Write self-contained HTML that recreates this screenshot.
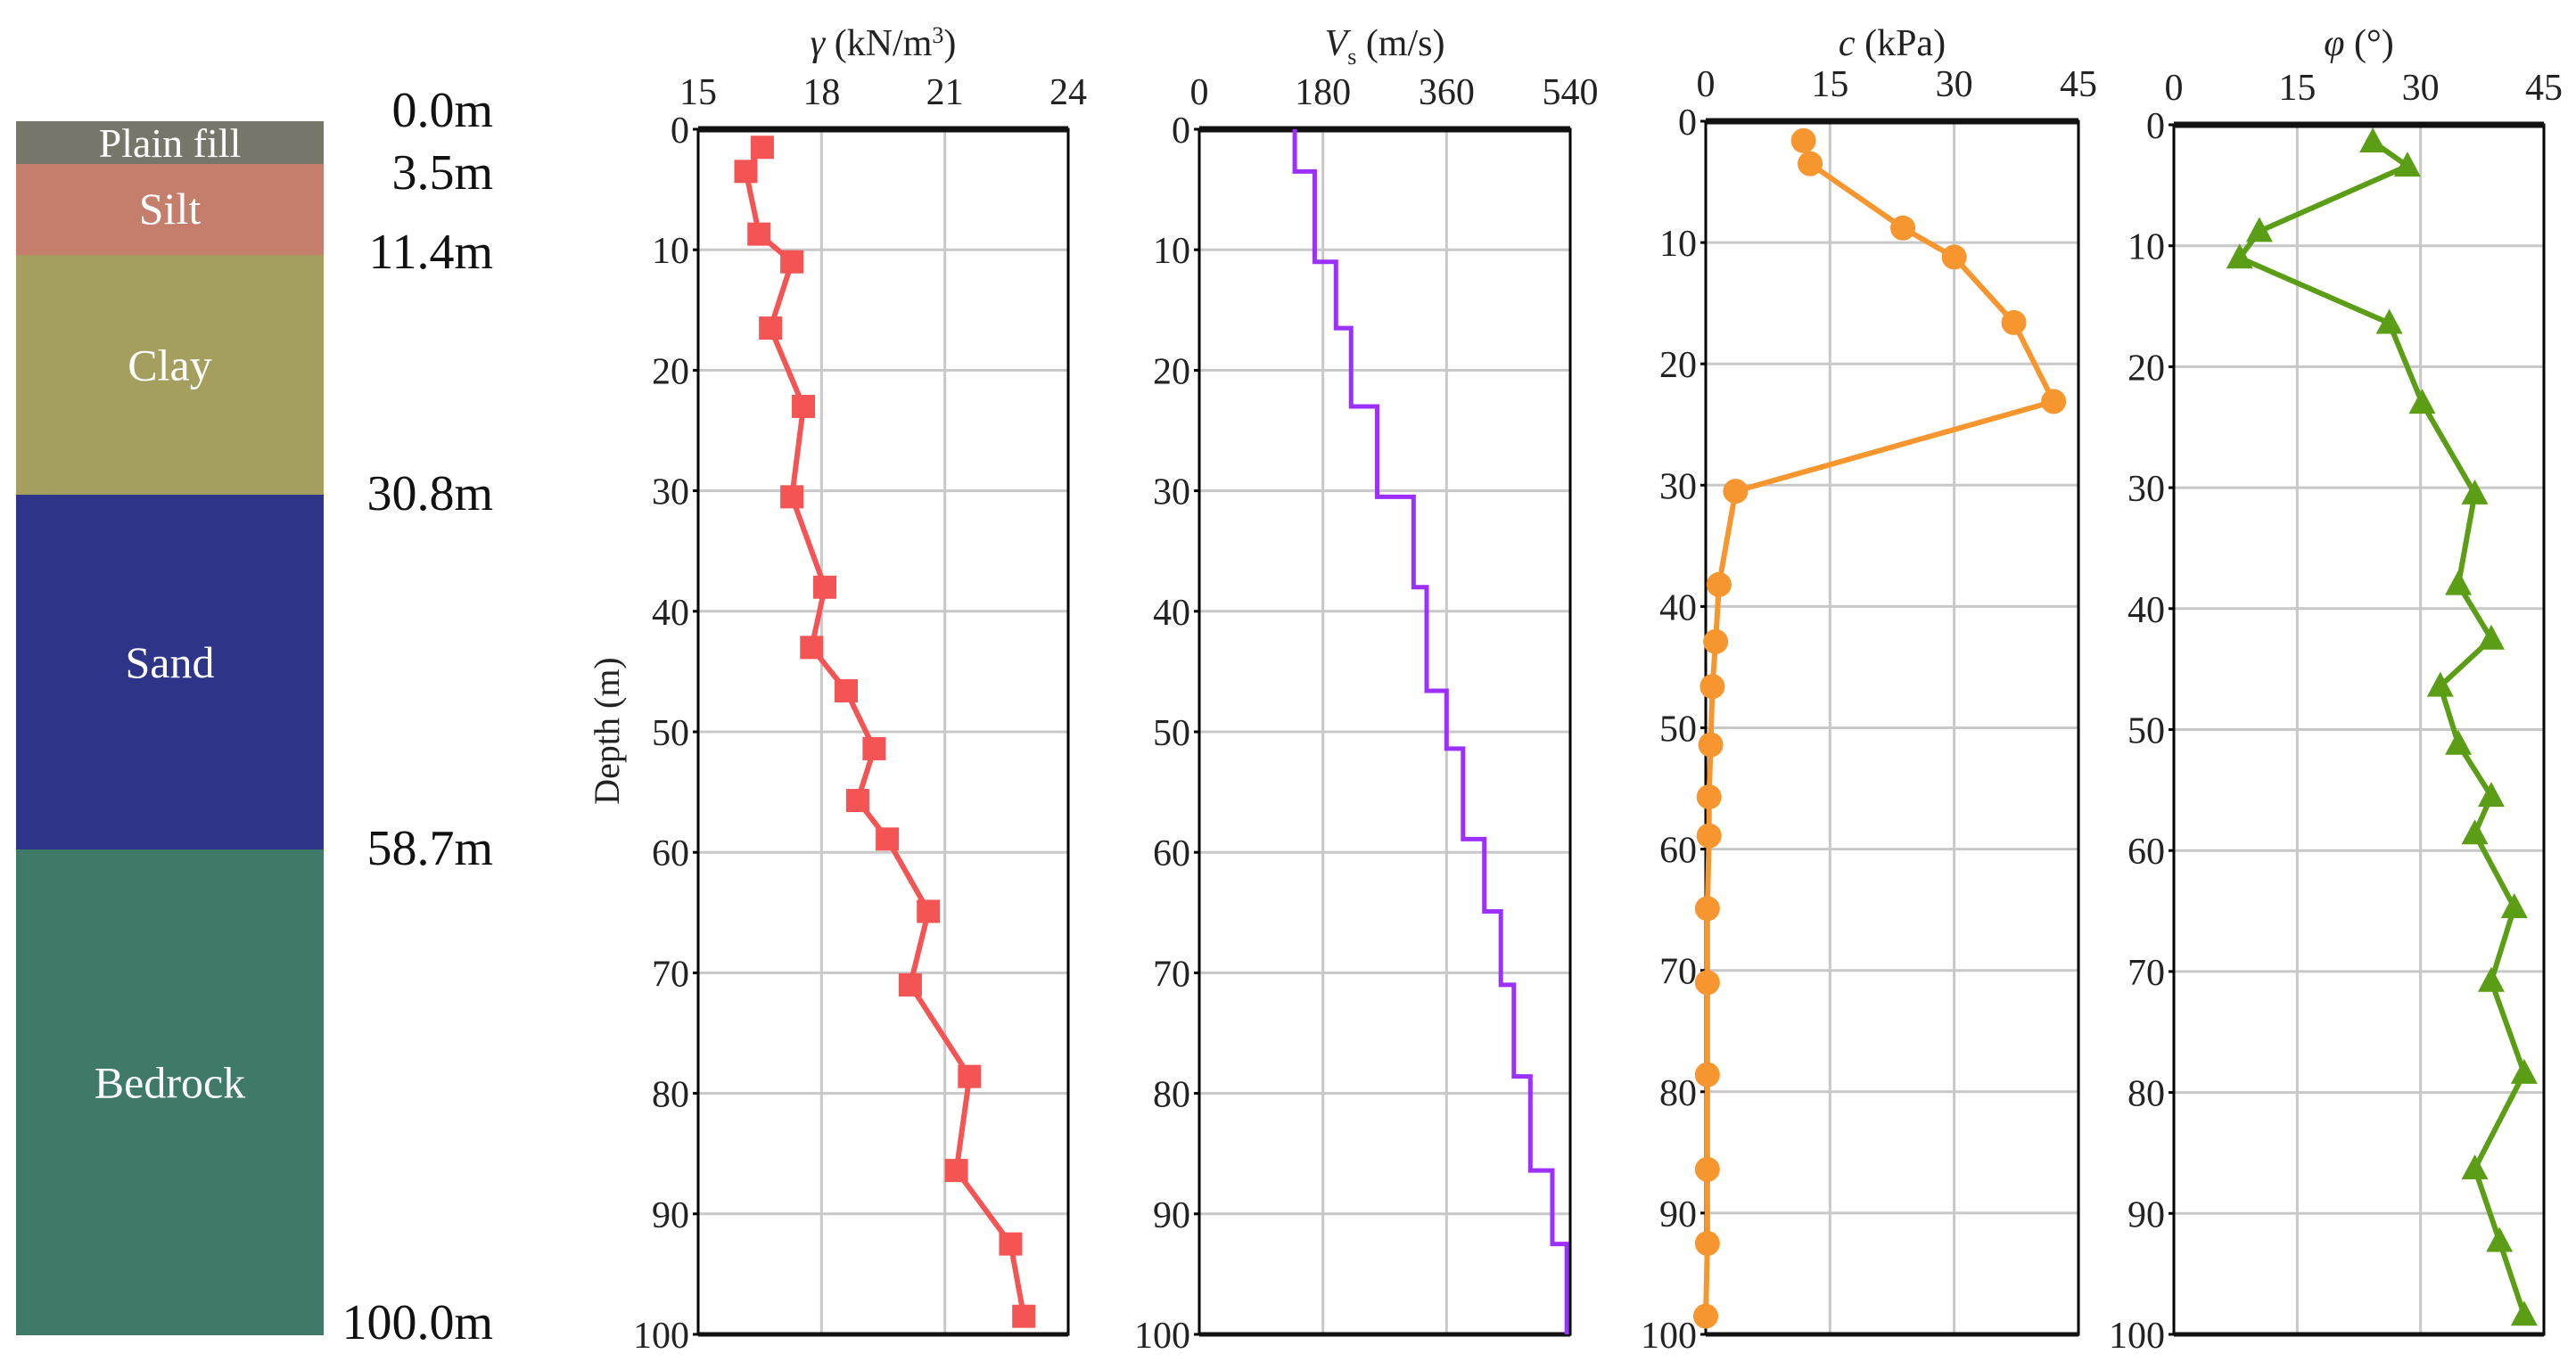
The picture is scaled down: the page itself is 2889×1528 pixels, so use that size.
<!DOCTYPE html>
<html><head><meta charset="utf-8"><style>
html,body{margin:0;padding:0;background:#fff;}
svg{display:block;font-family:"Liberation Serif",serif;}
</style></head><body>
<svg id="fig" width="2889" height="1528" viewBox="0 0 2889 1528">
<g id="column"></g>
<g id="panels"></g>
</svg>
<script>
// Soil layers
const layerNames = ["Plain fill","Silt","Clay","Sand","Bedrock"];
const layerTops = [0,3.5,11.4,30.8,58.7];
const layerBottoms = [3.5,11.4,30.8,58.7,100];
const layerColors = ["#76766a","#c47e6b","#a49e5f","#2e3589","#3f7a68"];
const boundaryLabels = ["0.0m","3.5m","11.4m","30.8m","58.7m","100.0m"];
const boundaryPixelY = [136,184,286,555,953,1498];

// Unit weight
const gammaDepth = [1.5,3.5,8.7,11,16.5,23,30.5,38,43,46.6,51.4,55.7,58.9,64.9,71,78.6,86.4,92.5,98.5];
const gammaVal = [16.56,16.16,16.48,17.28,16.76,17.56,17.28,18.08,17.76,18.6,19.28,18.88,19.6,20.6,20.16,21.6,21.28,22.6,22.92];
const gammaTicks = [15,18,21,24];
// Shear wave velocity (step profile)
const vsTop = [0,3.5,11,16.5,23,30.5,38,46.6,51.4,58.9,64.9,71,78.6,86.4,92.5];
const vsBottom = [3.5,11,16.5,23,30.5,38,46.6,51.4,58.9,64.9,71,78.6,86.4,92.5,100];
const vsVal = [139,168,199,221,259,312,331,360,384,415,439,458,482,514,535];
const vsTicks = [0,180,360,540];
// Cohesion
const cDepth = [1.6,3.5,8.8,11.2,16.6,23.1,30.5,38.2,42.9,46.6,51.4,55.7,58.9,64.9,71,78.6,86.4,92.5,98.5];
const cVal = [11.8,12.6,23.8,30,37.2,42,3.6,1.6,1.2,0.8,0.6,0.4,0.4,0.2,0.2,0.2,0.2,0.2,0];
const cTicks = [0,15,30,45];
// Friction angle
const phiDepth = [1.4,3.4,8.8,11,16.4,23,30.5,38,42.5,46.4,51.2,55.5,58.6,64.7,70.8,78.4,86.3,92.3,98.4];
const phiVal = [24.2,28.4,10.4,8,26.2,30.2,36.6,34.6,38.6,32.4,34.6,38.6,36.6,41.4,38.6,42.6,36.6,39.6,42.6];
const phiTicks = [0,15,30,45];
const depthTicks = [0,10,20,30,40,50,60,70,80,90,100];

const NS="http://www.w3.org/2000/svg";
function mk(tag,attrs,parent){const e=document.createElementNS(NS,tag);for(const k in attrs)e.setAttribute(k,attrs[k]);parent.appendChild(e);return e;}

// column
const col=document.getElementById('column');
const colX=18,colW=345;
const labelOffsets=[16,16,6,6,6];
layerNames.forEach((n,i)=>{
  const y0=boundaryPixelY[i], y1=boundaryPixelY[i+1];
  const r=mk('rect',{x:colX,y:y0,width:colW,height:y1-y0,fill:layerColors[i]},col);
  
  
  const t=mk('text',{x:colX+colW/2,y:(y0+y1)/2+labelOffsets[i],'text-anchor':'middle','font-size':i==0?46:50,fill:'#fff'},col);
  t.textContent=n;
  
  
});
const blY=[123,193,282,553,951,1483];
boundaryLabels.forEach((b,i)=>{
  const t=mk('text',{x:553,y:blY[i]+19,'text-anchor':'end','font-size':56,fill:'#111'},col);
  t.textContent=b;
  
  
});

const panels=document.getElementById('panels');
function panel(opt){
  const g=mk('g',{},panels);
  
  
  const L=opt.x0,R=opt.x1,T=opt.top,B=1497;
  const xs=v=>L+(v-opt.ticks[0])/(opt.ticks[opt.ticks.length-1]-opt.ticks[0])*(R-L);
  const ys=d=>T+d/100*(B-T);
  depthTicks.forEach(d=>{
    if(d>0&&d<100){const l=mk('line',{x1:L,x2:R,y1:ys(d),y2:ys(d),stroke:'#c8c8c8','stroke-width':3},g);
      }
    const t=mk('text',{x:L-10,y:ys(d)+15,'text-anchor':'end','font-size':42,fill:'#222'},g);
    t.textContent=d;
    mk('line',{x1:L-6,x2:L,y1:ys(d),y2:ys(d),stroke:'#000','stroke-width':3},g);
  });
  opt.ticks.forEach((v,i)=>{
    if(i>0&&i<opt.ticks.length-1){const l=mk('line',{x1:xs(v),x2:xs(v),y1:T,y2:B,stroke:'#c8c8c8','stroke-width':3},g);
      }
    const t=mk('text',{x:xs(v),y:T-28,'text-anchor':'middle','font-size':42,fill:'#222'},g);
    t.textContent=v;
  });
  const fr=mk('rect',{x:L,y:T,width:R-L,height:B-T,fill:'none',stroke:'#000','stroke-width':3},g);
  
  mk('line',{x1:L,x2:R,y1:T,y2:T,stroke:'#111','stroke-width':7},g);
  mk('line',{x1:L,x2:R,y1:B,y2:B,stroke:'#111','stroke-width':5},g);
  const tt=mk('text',{x:(L+R)/2,y:62,'text-anchor':'middle','font-size':42,fill:'#222'},g);
  tt.innerHTML=opt.title;
  
  opt.draw(g,xs,ys);
}
function series(g,xs,ys,vals,depths,color,marker,name){
  const pts=vals.map((v,i)=>xs(v)+','+ys(depths[i])).join(' ');
  const pl=mk('polyline',{points:pts,fill:'none',stroke:color,'stroke-width':6},g);
  
  vals.forEach((v,i)=>{
    const x=xs(v),y=ys(depths[i]);let m;
    if(marker=='sq')m=mk('rect',{x:x-13,y:y-13,width:26,height:26,fill:color},g);
    else if(marker=='ci')m=mk('circle',{cx:x,cy:y,r:14,fill:color},g);
    else m=mk('polygon',{points:`${x},${y-16} ${x-15},${y+12} ${x+15},${y+12}`,fill:color},g);
    
    
  });
}
panel({name:'unit-weight-panel',x0:783,x1:1198,top:145,ticks:gammaTicks,
  title:'<tspan font-style="italic">γ</tspan> (kN/m<tspan dy="-14" font-size="26">3</tspan><tspan dy="14">)</tspan>',
  draw:(g,xs,ys)=>series(g,xs,ys,gammaVal,gammaDepth,'#f45454','sq','gamma')});
panel({name:'shear-velocity-panel',x0:1345,x1:1761,top:145,ticks:vsTicks,
  title:'<tspan font-style="italic">V</tspan><tspan dy="10" font-size="26">s</tspan><tspan dy="-10"> (m/s)</tspan>',
  draw:(g,xs,ys)=>{
    let pts=[];vsVal.forEach((v,i)=>{pts.push(xs(v)+','+ys(vsTop[i]));pts.push(xs(v)+','+ys(vsBottom[i]));});
    const pl=mk('polyline',{points:pts.join(' '),fill:'none',stroke:'#9b30ff','stroke-width':5},g);
    
  }});
panel({name:'cohesion-panel',x0:1913,x1:2331,top:136,ticks:cTicks,
  title:'<tspan font-style="italic">c</tspan> (kPa)',
  draw:(g,xs,ys)=>series(g,xs,ys,cVal,cDepth,'#f7952e','ci','cohesion')});
panel({name:'friction-angle-panel',x0:2438,x1:2853,top:140,ticks:phiTicks,
  title:'<tspan font-style="italic">φ</tspan> (°)',
  draw:(g,xs,ys)=>series(g,xs,ys,phiVal,phiDepth,'#5b9e16','tri','phi')});
const yl=mk('text',{x:0,y:0,'text-anchor':'middle','font-size':40,fill:'#222',transform:'translate(694,820) rotate(-90)'},panels);
yl.textContent='Depth (m)';


</script>
</body></html>
